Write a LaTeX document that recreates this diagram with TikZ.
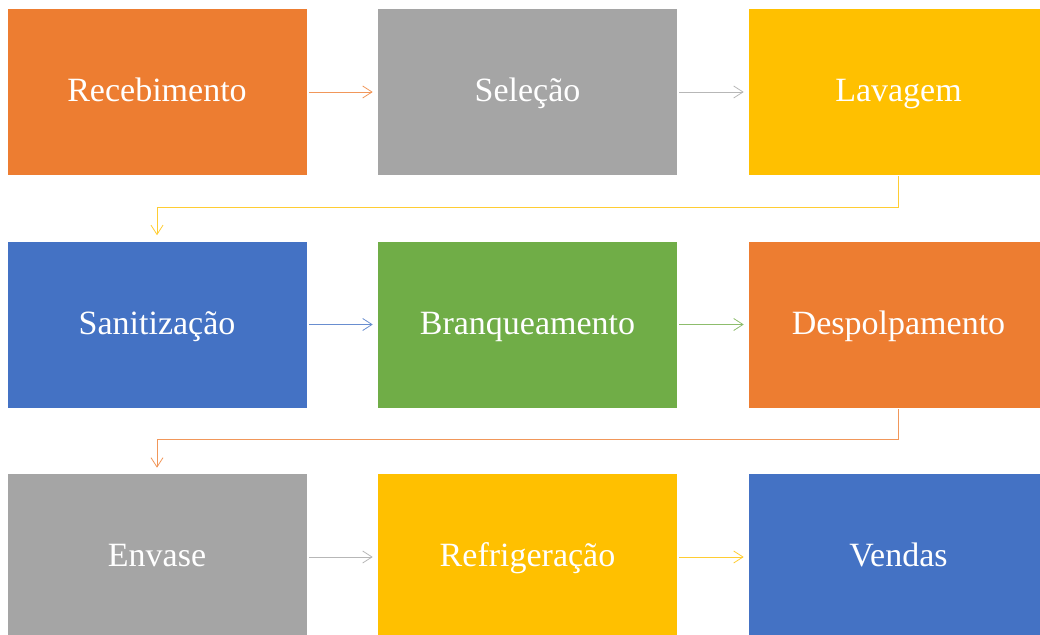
\documentclass[tikz,border=0pt]{standalone}
\usepackage{fontspec}
\setmainfont{Liberation Serif}
\usetikzlibrary{arrows.meta}

\definecolor{laranja}{RGB}{237,125,49}
\definecolor{cinza}{RGB}{165,165,165}
\definecolor{ouro}{RGB}{255,192,0}
\definecolor{azul}{RGB}{68,114,196}
\definecolor{verde}{RGB}{112,173,71}

\tikzset{
  etapa/.style={rectangle, fill=#1, text=white, inner sep=0pt,
    minimum width=224.25pt, minimum height=124.5pt, text height=19pt, text depth=4.75pt,
    font=\fontsize{25.5}{30}\selectfont},
  seta/.style={draw=#1!80, line width=0.6pt, shorten <=1.5pt, shorten >=3.75pt,
    -{Straight Barb[length=7pt,width=9pt,line width=0.6pt]}}
}

\begin{document}
\begin{tikzpicture}[x=0.75pt,y=0.75pt,yscale=-1,xscale=1]
\useasboundingbox (0,0) rectangle (1040,635);

% primeira linha
\node [etapa=laranja] (receb) at (157,92) {Recebimento};
\node [etapa=cinza] (selec) at (527.5,92) {Seleção};
\node [etapa=ouro] (lavag) at (898.5,92) {Lavagem};
% segunda linha
\node [etapa=azul] (sanit) at (157,324.5) {Sanitização};
\node [etapa=verde] (branq) at (527.5,324.5) {Branqueamento};
\node [etapa=laranja] (despo) at (898.5,324.5) {Despolpamento};
% terceira linha
\node [etapa=cinza] (envas) at (157,557) {Envase};
\node [etapa=ouro] (refri) at (527.5,557) {Refrigeração};
\node [etapa=azul] (venda) at (898.5,557) {Vendas};

% setas
\draw [seta=laranja] (receb) -- (selec);
\draw [seta=cinza] (selec) -- (lavag);
\draw [seta=ouro, shorten <=0.75pt, shorten >=4.5pt] (lavag.south) -- ++(0,32) -| (sanit.north);
\draw [seta=azul] (sanit) -- (branq);
\draw [seta=verde] (branq) -- (despo);
\draw [seta=laranja, shorten <=0.75pt, shorten >=4.5pt] (despo.south) -- ++(0,32) -| (envas.north);
\draw [seta=cinza] (envas) -- (refri);
\draw [seta=ouro] (refri) -- (venda);

\end{tikzpicture}
\end{document}
